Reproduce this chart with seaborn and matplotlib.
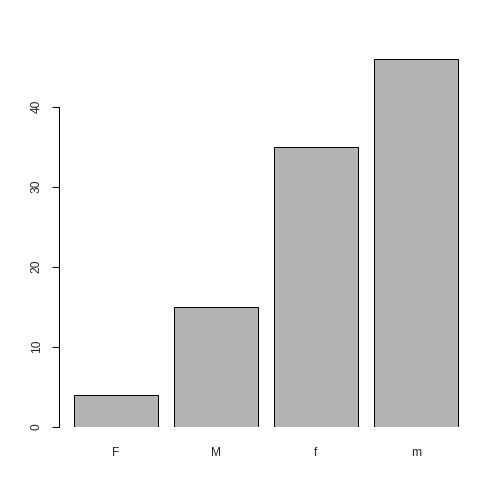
import matplotlib
matplotlib.use("Agg")
import matplotlib.pyplot as plt
import seaborn as sns

categories = ["F", "M", "f", "m"]
counts = [4, 15, 35, 46]
y_ticks = [0, 10, 20, 30, 40]

sns.set_style("white")
plt.rcParams['font.family'] = ['Liberation Sans', 'DejaVu Sans']

fig = plt.figure(figsize=(7, 7), dpi=72)
ax = fig.add_axes([59 / 504, (504 - 426.7) / 504, 415 / 504, 368 / 504])

sns.barplot(x=categories, y=counts, order=categories, color="#b3b3b3",
            saturation=1, width=1 / 1.2, edgecolor="black", linewidth=1, ax=ax)

ax.set_xlim(-0.57, 3.58)
ax.set_ylim(0, 46)
ax.set_xlabel("")
ax.set_ylabel("")

for side in ["top", "right", "bottom"]:
    ax.spines[side].set_visible(False)
ax.spines["left"].set_bounds(0, 40)
ax.spines["left"].set_color("black")
ax.spines["left"].set_linewidth(1)

ax.set_yticks(y_ticks)
ax.set_yticklabels([str(t) for t in y_ticks], rotation=90, va="center")
ax.tick_params(axis="y", length=7.2, width=1, color="black", pad=9, labelsize=12, left=True)
ax.tick_params(axis="x", length=0, pad=20, labelsize=12)

fig.savefig("out.png", dpi=72, facecolor="white")
